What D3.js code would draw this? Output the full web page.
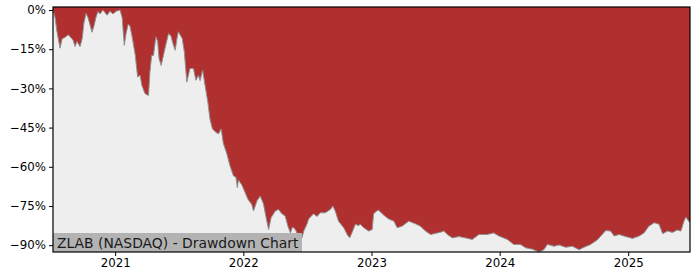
<!DOCTYPE html>
<html>
<head>
<meta charset="utf-8">
<script src="https://cdn.jsdelivr.net/npm/d3@7/dist/d3.min.js"></script>
<style>
  html, body { margin: 0; padding: 0; background: #ffffff; }
  svg { display: block; }
  text { font-family: "DejaVu Sans", sans-serif; }
</style>
</head>
<body>
<svg id="chart" width="700" height="280"></svg>
<script>
const title = "ZLAB (NASDAQ) - Drawdown Chart";

const dates = [
  "2020-07-08","2020-07-14","2020-07-19","2020-07-28","2020-08-03","2020-08-11","2020-08-20","2020-08-28",
  "2020-09-03","2020-09-09","2020-09-14","2020-09-23","2020-09-29","2020-10-04","2020-10-10","2020-10-16",
  "2020-10-22","2020-10-27","2020-11-02","2020-11-07","2020-11-13","2020-11-19","2020-11-27","2020-12-03",
  "2020-12-09","2020-12-17","2020-12-26","2021-01-04","2021-01-15","2021-01-21","2021-01-27","2021-02-01",
  "2021-02-07","2021-02-12","2021-02-19","2021-02-27","2021-03-06","2021-03-13","2021-03-18","2021-03-27",
  "2021-04-06","2021-04-10","2021-04-15","2021-04-20","2021-04-27","2021-05-02","2021-05-06","2021-05-12",
  "2021-05-19","2021-05-25","2021-06-02","2021-06-09","2021-06-16","2021-06-21","2021-06-26","2021-06-30",
  "2021-07-05","2021-07-11","2021-07-17","2021-07-24","2021-08-02","2021-08-12","2021-08-19","2021-08-26",
  "2021-08-31","2021-09-07","2021-09-14","2021-09-22","2021-09-28","2021-10-05","2021-10-15","2021-10-22",
  "2021-10-30","2021-11-05","2021-11-15","2021-11-24","2021-12-04","2021-12-11","2021-12-15","2021-12-18",
  "2021-12-28","2022-01-04","2022-01-14","2022-01-25","2022-01-30","2022-02-09","2022-02-18","2022-02-27",
  "2022-03-09","2022-03-14","2022-03-21","2022-04-02","2022-04-11","2022-04-21","2022-04-30","2022-05-08",
  "2022-05-15","2022-05-21","2022-05-29","2022-06-07","2022-06-17","2022-06-22","2022-07-01","2022-07-06",
  "2022-07-16","2022-07-20","2022-07-30","2022-08-08","2022-08-22","2022-09-06","2022-09-13","2022-09-20",
  "2022-09-29","2022-10-14","2022-10-24","2022-10-31","2022-11-07","2022-11-16","2022-11-25","2022-11-30",
  "2022-12-10","2022-12-24","2023-01-03","2023-01-07","2023-01-15","2023-01-21","2023-02-05","2023-02-19",
  "2023-03-06","2023-03-15","2023-03-29","2023-04-17","2023-05-06","2023-05-20","2023-06-04","2023-06-18",
  "2023-07-02","2023-07-17","2023-07-26","2023-08-05","2023-08-19","2023-09-07","2023-09-26","2023-10-15",
  "2023-11-03","2023-11-27","2023-12-15","2023-12-30","2024-01-23","2024-02-10","2024-02-29","2024-03-15",
  "2024-04-03","2024-04-22","2024-05-06","2024-05-16","2024-06-04","2024-06-18","2024-07-07","2024-07-26",
  "2024-08-14","2024-08-28","2024-09-16","2024-10-05","2024-10-19","2024-10-29","2024-11-12","2024-11-22",
  "2024-12-06","2024-12-20","2025-01-13","2025-02-01","2025-02-15","2025-03-01","2025-03-16","2025-03-30",
  "2025-04-09","2025-04-23","2025-05-07","2025-05-21","2025-05-31","2025-06-09","2025-06-14","2025-06-23",
  "2025-06-26"
];

const drawdown = [
  0, -3, -8, -14.6, -11, -10.5, -9.5, -10.5,
  -11.5, -14, -12, -14, -11, -5, -1.3, -3,
  -6, -8.5, -6, -3, -0.6, -1.5, 0, -1,
  -2, -0.5, -1.5, -0.5, 0, -3, -13.5, -9,
  -5.5, -6, -10.8, -17, -25.6, -25, -28.8, -32,
  -32.7, -23.7, -17.3, -17.5, -10.3, -12, -18.6, -21.2,
  -17, -13.5, -9, -10, -13.5, -15.4, -11, -8.3,
  -9.5, -10.9, -16, -27.6, -22.4, -22.4, -26.9, -25,
  -27, -23, -28.8, -35.3, -41.7, -45.5, -46.8, -47.4,
  -45.5, -51, -55, -59.6, -63.5, -64, -68, -65,
  -67, -69.2, -72.4, -74.4, -76.9, -73, -71.2, -74,
  -80.8, -84, -79.5, -76.9, -76.3, -78, -78.8, -82.7,
  -85.3, -83, -84, -86.5, -87.2, -84.6, -82, -80,
  -78.5, -78, -79, -77.6, -77.6, -76.3, -75, -77,
  -80.8, -83.3, -86, -87.2, -85, -82, -82.5, -82,
  -83.3, -84.6, -84, -78, -77, -76.6, -78.5, -80,
  -80.8, -83.3, -82.7, -80.8, -81.8, -82.7, -84.6, -85.9,
  -85.5, -85, -84.6, -85.9, -87.2, -86.7, -87.2, -87.8,
  -85.9, -85.9, -85.3, -86.5, -87.8, -89.7, -89.7, -91,
  -91.5, -92.6, -91.7, -89.7, -90.4, -89.9, -90.8, -90.4,
  -91.7, -90.8, -89.7, -88, -85.9, -84.4, -84.6, -86.5,
  -85.9, -86.5, -87.4, -86.5, -85.3, -82.7, -81.4, -82,
  -85.6, -84.6, -85.1, -84.2, -84.6, -80.8, -79.2, -81,
  -81.2
];

const yTicks = [0, -15, -30, -45, -60, -75, -90];
const xTickYears = [2021, 2022, 2023, 2024, 2025];

const parse = d3.timeParse("%Y-%m-%d");
const data = dates.map((d, i) => ({ date: parse(d), dd: drawdown[i] }));

const margin = { left: 53, right: 10, top: 7, bottom: 28 };
const W = 700, H = 280;
const x0 = margin.left, x1 = W - margin.right;
const y0 = margin.top, y1 = H - margin.bottom;

const svg = d3.select("#chart");

const x = d3.scaleTime()
  .domain(d3.extent(data, d => d.date))
  .range([x0, x1]);

const y = d3.scaleLinear()
  .domain([-92.6, 1.15])
  .range([y1, y0]);

// background
svg.append("rect")
  .attr("x", x0).attr("y", y0)
  .attr("width", x1 - x0).attr("height", y1 - y0)
  .attr("fill", "#eeeeee");

// red area from top of axes down to drawdown
const area = d3.area()
  .x(d => x(d.date))
  .y0(y0)
  .y1(d => y(d.dd));

svg.append("path")
  .datum(data)
  .attr("d", area)
  .attr("fill", "#b03030");

const line = d3.line()
  .x(d => x(d.date))
  .y(d => y(d.dd));

svg.append("path")
  .datum(data)
  .attr("d", line)
  .attr("fill", "none")
  .attr("stroke", "#909090")
  .attr("stroke-width", 1);

// label box
const label = svg.append("g");
const lt = label.append("text")
  .attr("x", x0 + 4)
  .attr("y", y1 - 4.5)
  .attr("font-size", "13.9px")
  .attr("fill", "#1a1a1a")
  .text(title);
const bb = lt.node().getBBox();
label.insert("rect", "text")
  .attr("x", x0)
  .attr("y", y1 - 19)
  .attr("width", bb.width + 7)
  .attr("height", 19)
  .attr("fill", "#b3b3b3");

// axes
const xAxis = d3.axisBottom(x)
  .tickValues(xTickYears.map(yr => new Date(yr, 0, 1)))
  .tickFormat(d3.timeFormat("%Y"))
  .tickSize(4)
  .tickPadding(3);

const gx = svg.append("g")
  .attr("transform", `translate(0,${y1})`)
  .call(xAxis);
gx.select(".domain").remove();
gx.selectAll("text").attr("font-size", "11.8px").attr("fill", "#000").attr("font-family", "DejaVu Sans, sans-serif");
gx.selectAll("line").attr("stroke", "#000");

const yAxis = d3.axisLeft(y)
  .tickValues(yTicks)
  .tickFormat(d => (d < 0 ? "\u2212" + Math.abs(d) : d) + "%")
  .tickSize(4)
  .tickPadding(3);

const gy = svg.append("g")
  .attr("transform", `translate(${x0},0)`)
  .call(yAxis);
gy.select(".domain").remove();
gy.selectAll("text").attr("font-size", "11.8px").attr("fill", "#000").attr("font-family", "DejaVu Sans, sans-serif");
gy.selectAll("line").attr("stroke", "#000");

// spines
svg.append("rect")
  .attr("x", x0).attr("y", y0)
  .attr("width", x1 - x0).attr("height", y1 - y0)
  .attr("fill", "none")
  .attr("stroke", "#000")
  .attr("stroke-width", 1.2);
</script>
</body>
</html>
